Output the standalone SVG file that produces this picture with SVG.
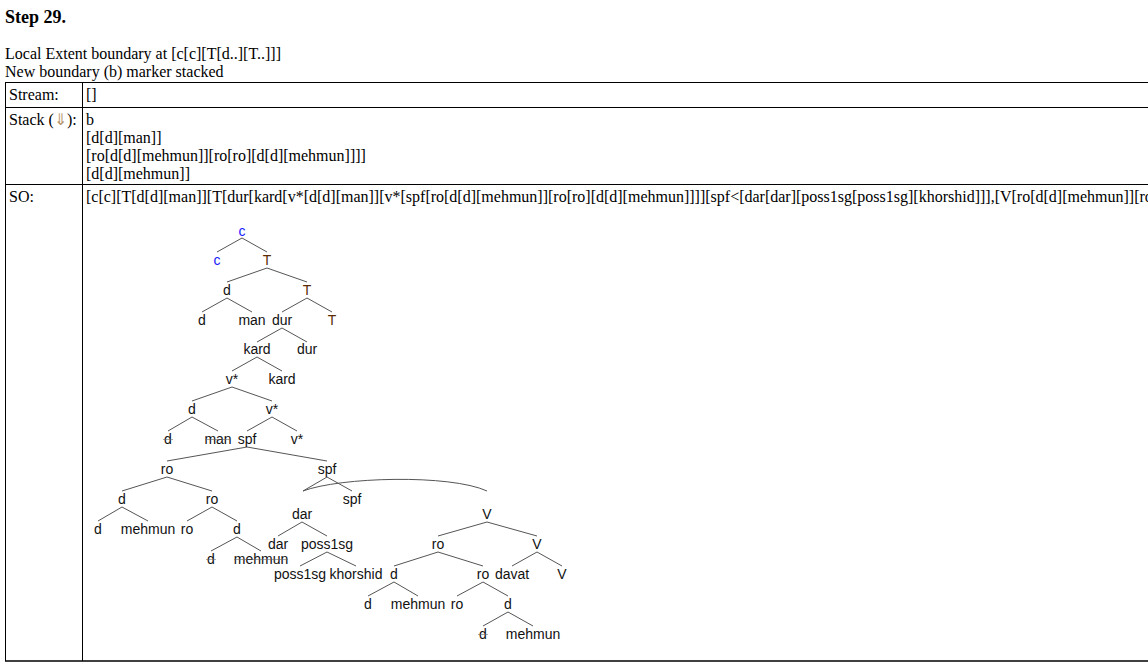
<svg xmlns="http://www.w3.org/2000/svg" width="1148" height="670" viewBox="0 0 1148 670">
  <style>
    .serif { font-family: "Liberation Serif", "Times New Roman", serif; font-size: 16px; fill: #000; }
    .title { font-family: "Liberation Serif", "Times New Roman", serif; font-size: 18px; font-weight: bold; fill: #000; }
    .grid { stroke: #000; stroke-width: 1; fill: none; }
    .lbl { font-family: "Liberation Sans", Arial, sans-serif; font-size: 14px; fill: #111; text-anchor: middle; }
    .cat-c { fill: #1a1aff; }
    .cat-t { fill: #5a2a05; }
    .strike { stroke: #666; stroke-width: 1; opacity: 0.55; }
    .edge { stroke: #555; stroke-width: 1; fill: none; }
  </style>

  <rect x="0" y="0" width="1148" height="670" fill="#fff"/>

  <!-- heading -->
  <text class="title" x="5" y="23">Step 29.</text>
  <text class="serif" x="5" y="59">Local Extent boundary at [c[c][T[d..][T..]]]</text>
  <text class="serif" x="5" y="77">New boundary (b) marker stacked</text>

  <!-- table frame -->
  <g id="table">
    <line class="grid" x1="5" y1="82.5" x2="1148" y2="82.5"/>
    <line class="grid" x1="5" y1="107.5" x2="1148" y2="107.5"/>
    <line class="grid" x1="5" y1="184.5" x2="1148" y2="184.5"/>
    <line x1="5" y1="661" x2="1148" y2="661" stroke="#000" stroke-width="1.6"/>
    <line class="grid" x1="5.5" y1="82" x2="5.5" y2="661"/>
    <line class="grid" x1="82.5" y1="82" x2="82.5" y2="661"/>

    <text class="serif" x="9" y="100">Stream:</text>
    <text class="serif" x="86" y="100">[]</text>

    <text class="serif" x="9" y="125">Stack (<tspan fill="#b8956a">⇓</tspan>):</text>
    <text class="serif" x="86" y="125">b</text>
    <text class="serif" x="86" y="143">[d[d][man]]</text>
    <text class="serif" x="86" y="161">[ro[d[d][mehmun]][ro[ro][d[d][mehmun]]]]</text>
    <text class="serif" x="86" y="179">[d[d][mehmun]]</text>

    <text class="serif" x="9" y="202">SO:</text>
    <text class="serif" x="86" y="202">[c[c][T[d[d][man]][T[dur[kard[v*[d[d][man]][v*[spf[ro[d[d][mehmun]][ro[ro][d[d][mehmun]]]][spf&lt;[dar[dar][poss1sg[poss1sg][khorshid]]],[V[ro[d[d][mehmun]][ro</text>
  </g>

  <!-- tree branches -->
  <g id="connectors">
    <!-- c -->
    <line class="edge" x1="242" y1="238" x2="217" y2="252"/>
    <line class="edge" x1="242" y1="238" x2="267" y2="252"/>
    <!-- T -->
    <line class="edge" x1="267" y1="268" x2="227" y2="282"/>
    <line class="edge" x1="267" y1="268" x2="307" y2="282"/>
    <!-- d [d man] -->
    <line class="edge" x1="227" y1="298" x2="202" y2="312"/>
    <line class="edge" x1="227" y1="298" x2="252" y2="312"/>
    <!-- T [dur T] -->
    <line class="edge" x1="307" y1="298" x2="282" y2="312"/>
    <line class="edge" x1="307" y1="298" x2="332" y2="312"/>
    <!-- dur -->
    <line class="edge" x1="282" y1="328" x2="257" y2="342"/>
    <line class="edge" x1="282" y1="328" x2="307" y2="342"/>
    <!-- kard -->
    <line class="edge" x1="257" y1="357" x2="232" y2="371"/>
    <line class="edge" x1="257" y1="357" x2="282" y2="371"/>
    <!-- v* -->
    <line class="edge" x1="232" y1="387" x2="192" y2="401"/>
    <line class="edge" x1="232" y1="387" x2="272" y2="401"/>
    <!-- d [d man] lower copy -->
    <line class="edge" x1="192" y1="417" x2="168" y2="431"/>
    <line class="edge" x1="192" y1="417" x2="218" y2="431"/>
    <!-- v* [spf v*] -->
    <line class="edge" x1="272" y1="417" x2="247" y2="431"/>
    <line class="edge" x1="272" y1="417" x2="297" y2="431"/>
    <!-- spf [ro spf] -->
    <line class="edge" x1="247" y1="447" x2="167" y2="461"/>
    <line class="edge" x1="247" y1="447" x2="327" y2="461"/>
    <!-- ro [d ro] -->
    <line class="edge" x1="167" y1="477" x2="122" y2="491"/>
    <line class="edge" x1="167" y1="477" x2="212" y2="491"/>
    <!-- d [d mehmun] -->
    <line class="edge" x1="122" y1="507" x2="98" y2="521"/>
    <line class="edge" x1="122" y1="507" x2="148" y2="521"/>
    <!-- ro [ro d] -->
    <line class="edge" x1="212" y1="507" x2="187" y2="521"/>
    <line class="edge" x1="212" y1="507" x2="237" y2="521"/>
    <!-- d [d mehmun] -->
    <line class="edge" x1="237" y1="537" x2="211" y2="551"/>
    <line class="edge" x1="237" y1="537" x2="261" y2="551"/>
    <!-- spf [pair spf] -->
    <line class="edge" x1="327" y1="477" x2="303" y2="491"/>
    <line class="edge" x1="327" y1="477" x2="352" y2="491"/>
    <!-- pair arc -->
    <path class="edge" d="M303,491 C340,477 450,474 487,491"/>
    <!-- dar -->
    <line class="edge" x1="302" y1="522" x2="278" y2="536"/>
    <line class="edge" x1="302" y1="522" x2="327" y2="536"/>
    <!-- poss1sg -->
    <line class="edge" x1="327" y1="552" x2="300" y2="566"/>
    <line class="edge" x1="327" y1="552" x2="356" y2="566"/>
    <!-- V [ro V] -->
    <line class="edge" x1="487" y1="522" x2="438" y2="536"/>
    <line class="edge" x1="487" y1="522" x2="537" y2="536"/>
    <!-- ro [d ro] -->
    <line class="edge" x1="438" y1="552" x2="394" y2="566"/>
    <line class="edge" x1="438" y1="552" x2="483" y2="566"/>
    <!-- V [davat V] -->
    <line class="edge" x1="537" y1="552" x2="512" y2="566"/>
    <line class="edge" x1="537" y1="552" x2="562" y2="566"/>
    <!-- d [d mehmun] -->
    <line class="edge" x1="394" y1="582" x2="368" y2="596"/>
    <line class="edge" x1="394" y1="582" x2="418" y2="596"/>
    <!-- ro [ro d] -->
    <line class="edge" x1="483" y1="582" x2="457" y2="596"/>
    <line class="edge" x1="483" y1="582" x2="508" y2="596"/>
    <!-- d [d mehmun] -->
    <line class="edge" x1="508" y1="612" x2="483" y2="626"/>
    <line class="edge" x1="508" y1="612" x2="533" y2="626"/>
  </g>

  <!-- tree labels -->
  <g id="n-c"><text class="lbl cat-c" x="242" y="236">c</text></g>
  <g id="n-c-head"><text class="lbl cat-c" x="217" y="265">c</text></g>
  <g id="n-T1"><text class="lbl cat-t" x="267" y="265">T</text></g>
  <g id="n-d1"><text class="lbl" x="227" y="295">d</text></g>
  <g id="n-T2"><text class="lbl cat-t" x="307" y="295">T</text></g>
  <g id="n-d1a"><text class="lbl" x="202" y="325">d</text></g>
  <g id="n-man1"><text class="lbl" x="252" y="325">man</text></g>
  <g id="n-dur1"><text class="lbl" x="282" y="325">dur</text></g>
  <g id="n-T3"><text class="lbl cat-t" x="332" y="325">T</text></g>
  <g id="n-kard1"><text class="lbl" x="257" y="354">kard</text></g>
  <g id="n-dur2"><text class="lbl" x="307" y="354">dur</text></g>
  <g id="n-vstar1"><text class="lbl" x="232" y="384">v*</text></g>
  <g id="n-kard2"><text class="lbl" x="282" y="384">kard</text></g>
  <g id="n-d2"><text class="lbl" x="192" y="414">d</text></g>
  <g id="n-vstar2"><text class="lbl" x="272" y="414">v*</text></g>
  <g id="n-d2a"><text class="lbl" x="168" y="444">d</text><line class="strike" x1="163" y1="439.5" x2="173" y2="439.5"/></g>
  <g id="n-man2"><text class="lbl" x="218" y="444">man</text><line class="strike" x1="205" y1="439.5" x2="231" y2="439.5"/></g>
  <g id="n-spf1"><text class="lbl" x="247" y="444">spf</text></g>
  <g id="n-vstar3"><text class="lbl" x="297" y="444">v*</text></g>
  <g id="n-ro1"><text class="lbl" x="167" y="474">ro</text></g>
  <g id="n-spf2"><text class="lbl" x="327" y="474">spf</text></g>
  <g id="n-d3"><text class="lbl" x="122" y="504">d</text></g>
  <g id="n-ro2"><text class="lbl" x="212" y="504">ro</text></g>
  <g id="n-spf3"><text class="lbl" x="352" y="504">spf</text></g>
  <g id="n-d3a"><text class="lbl" x="98" y="534">d</text></g>
  <g id="n-mehmun1"><text class="lbl" x="148" y="534">mehmun</text></g>
  <g id="n-ro3"><text class="lbl" x="187" y="534">ro</text></g>
  <g id="n-d4"><text class="lbl" x="237" y="534">d</text></g>
  <g id="n-d4a"><text class="lbl" x="211" y="564">d</text><line class="strike" x1="206" y1="559.5" x2="216" y2="559.5"/></g>
  <g id="n-mehmun2"><text class="lbl" x="261" y="564">mehmun</text><line class="strike" x1="234" y1="559.5" x2="288" y2="559.5"/></g>
  <g id="n-dar1"><text class="lbl" x="302" y="519">dar</text></g>
  <g id="n-dar2"><text class="lbl" x="278" y="549">dar</text></g>
  <g id="n-poss1"><text class="lbl" x="327" y="549">poss1sg</text></g>
  <g id="n-poss2"><text class="lbl" x="300" y="579">poss1sg</text></g>
  <g id="n-khorshid"><text class="lbl" x="356" y="579">khorshid</text></g>
  <g id="n-V1"><text class="lbl" x="487" y="519">V</text></g>
  <g id="n-ro4"><text class="lbl" x="438" y="549">ro</text></g>
  <g id="n-V2"><text class="lbl" x="537" y="549">V</text></g>
  <g id="n-d5"><text class="lbl" x="394" y="579">d</text></g>
  <g id="n-ro5"><text class="lbl" x="483" y="579">ro</text></g>
  <g id="n-davat"><text class="lbl" x="512" y="579">davat</text></g>
  <g id="n-V3"><text class="lbl" x="562" y="579">V</text></g>
  <g id="n-d5a"><text class="lbl" x="368" y="609">d</text></g>
  <g id="n-mehmun3"><text class="lbl" x="418" y="609">mehmun</text></g>
  <g id="n-ro6"><text class="lbl" x="457" y="609">ro</text></g>
  <g id="n-d6"><text class="lbl" x="508" y="609">d</text></g>
  <g id="n-d6a"><text class="lbl" x="483" y="639">d</text><line class="strike" x1="478" y1="634.5" x2="488" y2="634.5"/></g>
  <g id="n-mehmun4"><text class="lbl" x="533" y="639">mehmun</text></g>
</svg>
